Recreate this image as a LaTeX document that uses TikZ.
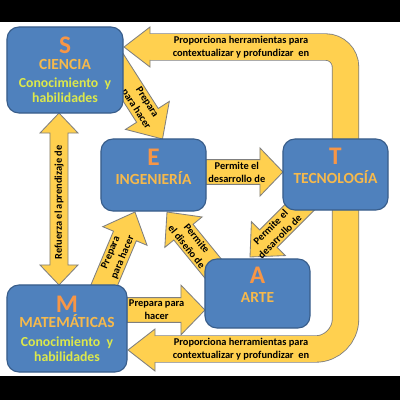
\documentclass[tikz,border=0pt]{standalone}
\usepackage{fontspec}
\setmainfont{Carlito}
\usetikzlibrary{calc,backgrounds}

\definecolor{boxblue}{HTML}{4F81BD}
\definecolor{boxline}{HTML}{385D8A}
\definecolor{arrowgold}{HTML}{FFD04F}
\definecolor{arrowline}{HTML}{7F7F7F}
\definecolor{lettercol}{HTML}{F79646}
\definecolor{titlecol}{HTML}{F6B94C}
\definecolor{skillcol}{HTML}{DCE84C}

\newcommand{\bigletter}[1]{{\color{lettercol}\fontsize{18}{18}\selectfont #1}}
\newcommand{\areaname}[1]{{\color{titlecol}\fontsize{11}{12.8}\selectfont #1}}
\newcommand{\skill}[1]{{\color{skillcol}#1}}

% block arrow: [label pos]{from}{to}{shaft half}{head half}{head length}{label}
\newcommand{\blockarrow}[7][0.5]{%
  \coordinate (bac) at ($(#3)!#6!(#2)$);
  \draw[yarrow] ($(#2)!#4!90:(#3)$) -- ($(bac)!#4!90:(#3)$) -- ($(bac)!#5!90:(#3)$) -- (#3)
    -- ($(bac)!#5!-90:(#3)$) -- ($(bac)!#4!-90:(#3)$) -- ($(#2)!#4!-90:(#3)$) -- cycle;
  \path (#2) -- (#3) node[lbl, sloped, pos=#1] {#7};
}

\tikzset{
  box/.style={draw=boxline, fill=boxblue, line width=0.8pt, rounded corners=0.3cm,
    inner sep=0pt, outer sep=0pt, align=center, font=\bfseries\fontsize{9.8}{12.8}\selectfont},
  shortbox/.style={box, text depth=12pt},
  yarrow/.style={draw=arrowline, fill=arrowgold, line width=0.6pt, line join=miter},
  band/.style={draw=arrowline, line width=0.6pt, double=arrowgold, double distance=0.64cm},
  lbl/.style={font=\bfseries\fontsize{7.4}{9.2}\selectfont, align=center, inner sep=0pt}
}

\begin{document}
\begin{tikzpicture}[x=0.025cm, y=-0.025cm]
\useasboundingbox (0,0) rectangle (400,400);

% the five areas
\node[box, minimum width=2.9cm, minimum height=2.15cm] (S) at (65,70)
  {\bigletter{S}\\[-2pt]\areaname{CIENCIA}\\[0.5pt]\skill{Conocimiento\ \ y}\\[-2.2pt]\skill{habilidades}};
\node[shortbox, minimum width=2.625cm, minimum height=1.8cm] (E) at (153.5,175)
  {\bigletter{E}\\[0.7pt]\areaname{INGENIERÍA}};
\node[shortbox, minimum width=2.625cm, minimum height=1.775cm] (T) at (335.5,174.5)
  {\bigletter{T}\\[0.7pt]\areaname{TECNOLOGÍA}};
\node[shortbox, minimum width=2.625cm, minimum height=1.725cm] (A) at (257.5,293.5)
  {\bigletter{A}\\[0.7pt]\areaname{ARTE}};
\node[box, minimum width=3cm, minimum height=2.175cm] (M) at (67,328.5)
  {\bigletter{M}\\[-2pt]\areaname{MATEMÁTICAS}\\[0.5pt]\skill{Conocimiento\ \ y}\\[-2.2pt]\skill{habilidades}};

\begin{pgfonlayer}{background}
\fill[white] (0,0) rectangle (400,400);
\fill[black] (0,0) rectangle (400,22);
\fill[black] (0,376) rectangle (400,400);

% end points of the arrows
\coordinate (se1) at ($(S.east)+(-11,-10)$);
\coordinate (se2) at ($(E.north)+(9,0)$);
\coordinate (et1) at ($(E.east)+(0,-3)$);
\coordinate (et2) at ($(T.west)+(0,-2.5)$);
\coordinate (ta1) at ($(T.south west)+(27,-13)$);
\coordinate (ta2) at ($(A.north)+(-7.5,-2)$);
\coordinate (ae1) at ($(A.north west)+(15,18)$);
\coordinate (ae2) at ($(E.south)+(13.5,1)$);
\coordinate (me1) at ($(M.north)+(31,15)$);
\coordinate (me2) at ($(E.south west)+(34,1)$);
\coordinate (ma1) at ($(M.north east)+(0,25)$);
\coordinate (ma2) at ($(A.south west)+(0,-18)$);
\coordinate (sm1) at ($(S.south)+(-6,0)$);
\coordinate (sm2) at ($(M.north)+(-8,0)$);
\coordinate (tu) at ($(T.north)+(10,10)$);
\coordinate (td) at ($(T.south)+(10,-10)$);

% T back to S and to M
\draw[band, rounded corners=0.5cm] (tu) |- (150,47);
\filldraw[yarrow] (150,34) -- (150,27) -- (124,47) -- (150,67) -- (150,60);
\node[lbl] (ts) at (241,47) {Proporciona herramientas para\\contextualizar y profundizar\ \ en};
\draw[band, rounded corners=0.75cm] (td) |- (155,349);
\filldraw[yarrow] (155,336) -- (155,329) -- (128,350) -- (155,371) -- (155,362);
\node[lbl] (tm) at (241,349) {Proporciona herramientas para\\contextualizar y profundizar\ \ en};

% S and M both ways
\coordinate (smc1) at ($(sm1)!0.5cm!(sm2)$);
\coordinate (smc2) at ($(sm2)!0.5cm!(sm1)$);
\draw[yarrow] (sm1) -- ($(smc1)!0.475cm!90:(sm2)$) -- ($(smc1)!0.225cm!90:(sm2)$)
  -- ($(smc2)!0.225cm!-90:(sm1)$) -- ($(smc2)!0.475cm!-90:(sm1)$) -- (sm2)
  -- ($(smc2)!0.475cm!90:(sm1)$) -- ($(smc2)!0.225cm!90:(sm1)$)
  -- ($(smc1)!0.225cm!-90:(sm2)$) -- ($(smc1)!0.475cm!-90:(sm2)$) -- cycle;
\path (sm2) -- (sm1) node[lbl, sloped, pos=0.48] {Refuerza el aprendizaje de};

\blockarrow[0.58]{se1}{se2}{0.32cm}{0.65cm}{0.7cm}{Prepara\\para hacer}
\blockarrow[0.4]{et1}{et2}{0.31cm}{0.6cm}{0.575cm}{Permite el\\desarrollo de}
\blockarrow[0.58]{ta1}{ta2}{0.31cm}{0.6cm}{0.65cm}{Permite el\\desarrollo de}
\blockarrow[0.53]{ae1}{ae2}{0.31cm}{0.6cm}{0.65cm}{Permite\\el diseño de}
\blockarrow[0.51]{me1}{me2}{0.31cm}{0.6cm}{0.65cm}{Prepara\\para hacer}
\blockarrow[0.38]{ma1}{ma2}{0.31cm}{0.62cm}{0.6cm}{Prepara para\\hacer}
\end{pgfonlayer}
\end{tikzpicture}
\end{document}
